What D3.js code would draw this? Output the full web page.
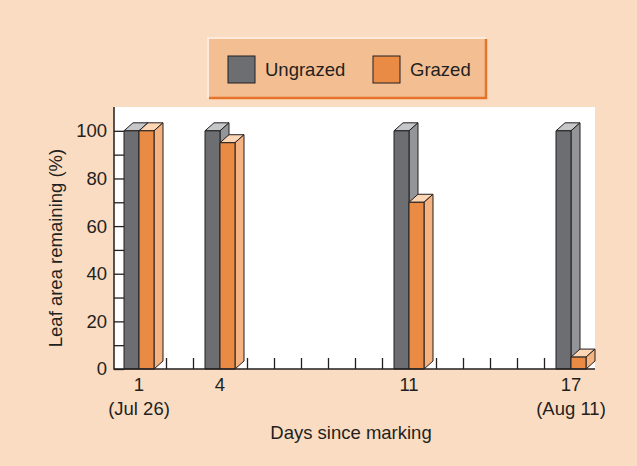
<title>Leaf area remaining</title>
<script src="https://d3js.org/d3.v7.min.js"></script>
<style>
    body { margin: 0; background: #fadcc3; }
    text { font-family: "Liberation Sans", Arial, sans-serif; fill: #231f20; }
</style>
<body>
<script>
    // values
    let days = [1, 4, 11, 17];
    let dayLabels = ["1", "4", "11", "17"];
    let dateLabels = ["(Jul 26)", "", "", "(Aug 11)"];
    let ungrazed = [100, 100, 100, 100];
    let grazed = [100, 95, 70, 5];
    let yTicks = [0, 10, 20, 30, 40, 50, 60, 70, 80, 90, 100];
    let seriesNames = ["Ungrazed", "Grazed"];

    let W = 637, H = 466;
    let plot = {left: 114, right: 595, top: 107, bottom: 369};
    let barW = 15, depX = 9, depY = 8;
    let ink = "#231f20";
    let fs = 18.5;

    // colors: front, side, top
    let grey = ["#6d6e71", "#939598", "#c6c7c9"];
    let orange = ["#ea8b45", "#f4b381", "#fcd6b5"];

    let svg = d3.select("body").append("svg").attr("width", W).attr("height", H);
    svg.append("rect").attr("width", W).attr("height", H).attr("fill", "#fadcc3");

    let x = d3.scaleLinear().domain([1, 17]).range([139, 571]);
    let y = d3.scaleLinear().domain([0, 110]).range([plot.bottom, plot.top]);

    svg.append("rect")
        .attr("x", plot.left).attr("y", plot.top)
        .attr("width", plot.right - plot.left).attr("height", plot.bottom - plot.top)
        .attr("fill", "#fff");

    // y axis: ticks pointing inwards
    let yAxis = svg.append("g").attr("transform", `translate(${plot.left},0)`)
        .call(d3.axisLeft(y).tickValues(yTicks).tickSize(-10).tickPadding(7)
            .tickFormat(d => d % 20 == 0 ? d : ""));
    yAxis.select(".domain").remove();
    yAxis.selectAll("line").attr("stroke", ink).attr("stroke-width", 1.3);
    yAxis.selectAll("text").attr("font-size", fs).attr("fill", ink)
        .style("font-family", "'Liberation Sans', Arial, sans-serif");

    // x axis: a tick for every day, pointing up
    let xAxis = svg.append("g").attr("transform", `translate(0,${plot.bottom})`)
        .call(d3.axisBottom(x).tickValues(d3.range(1, 18)).tickSize(-11).tickFormat(""));
    xAxis.select(".domain").remove();
    xAxis.selectAll("line").attr("stroke", ink).attr("stroke-width", 1.3);

    function bar3d(g, x0, v, col) {
        let y0 = y(v), y1 = y(0);
        g.append("path")
            .attr("d", `M${x0},${y0}h${barW}l${depX},${-depY}h${-barW}z`)
            .attr("fill", col[2]);
        g.append("path")
            .attr("d", `M${x0 + barW},${y0}l${depX},${-depY}V${y1 - depY}l${-depX},${depY}z`)
            .attr("fill", col[1]);
        g.append("rect")
            .attr("x", x0).attr("y", y0).attr("width", barW).attr("height", y1 - y0)
            .attr("fill", col[0]);
        g.selectAll("path,rect").attr("stroke", ink).attr("stroke-width", 1).attr("stroke-linejoin", "round");
    }

    let bars = svg.append("g");
    days.forEach((d, i) => {
        bar3d(bars.append("g"), x(d) - barW, ungrazed[i], grey);
        bar3d(bars.append("g"), x(d), grazed[i], orange);
    });

    // axis lines
    svg.append("path")
        .attr("d", `M${plot.left},${plot.top}V${plot.bottom}H${plot.right}`)
        .attr("fill", "none").attr("stroke", ink).attr("stroke-width", 1.5);

    // x labels
    svg.selectAll(".dlab").data(days).enter().append("text")
        .attr("x", d => x(d)).attr("y", 390.5)
        .attr("text-anchor", "middle").attr("font-size", fs)
        .text((d, i) => dayLabels[i]);
    svg.selectAll(".dtlab").data(days).enter().append("text")
        .attr("x", d => x(d)).attr("y", 414.5)
        .attr("text-anchor", "middle").attr("font-size", fs)
        .text((d, i) => dateLabels[i]);

    svg.append("text").attr("x", 351).attr("y", 439)
        .attr("text-anchor", "middle").attr("font-size", fs)
        .text("Days since marking");

    svg.append("text")
        .attr("transform", `translate(62,248) rotate(-90)`)
        .attr("text-anchor", "middle").attr("font-size", fs)
        .text("Leaf area remaining (%)");

    // legend box with bevel
    let lg = svg.append("g");
    lg.append("rect").attr("x", 208).attr("y", 38).attr("width", 278).attr("height", 60)
        .attr("fill", "#f4be93");
    lg.append("path").attr("d", "M208,98V38H486")
        .attr("fill", "none").attr("stroke", "#fdeadb").attr("stroke-width", 2);
    lg.append("path").attr("d", "M209,98H486V39")
        .attr("fill", "none").attr("stroke", "#e5742a").attr("stroke-width", 2.5);

    let legX = [228, 373];
    let legCols = [grey[0], orange[0]];
    seriesNames.forEach((n, i) => {
        lg.append("rect").attr("x", legX[i]).attr("y", 56).attr("width", 27).attr("height", 27)
            .attr("fill", legCols[i]).attr("stroke", ink).attr("stroke-width", 1);
        lg.append("text").attr("x", legX[i] + 37).attr("y", 76)
            .attr("font-size", fs).text(n);
    });
</script>
</body>
